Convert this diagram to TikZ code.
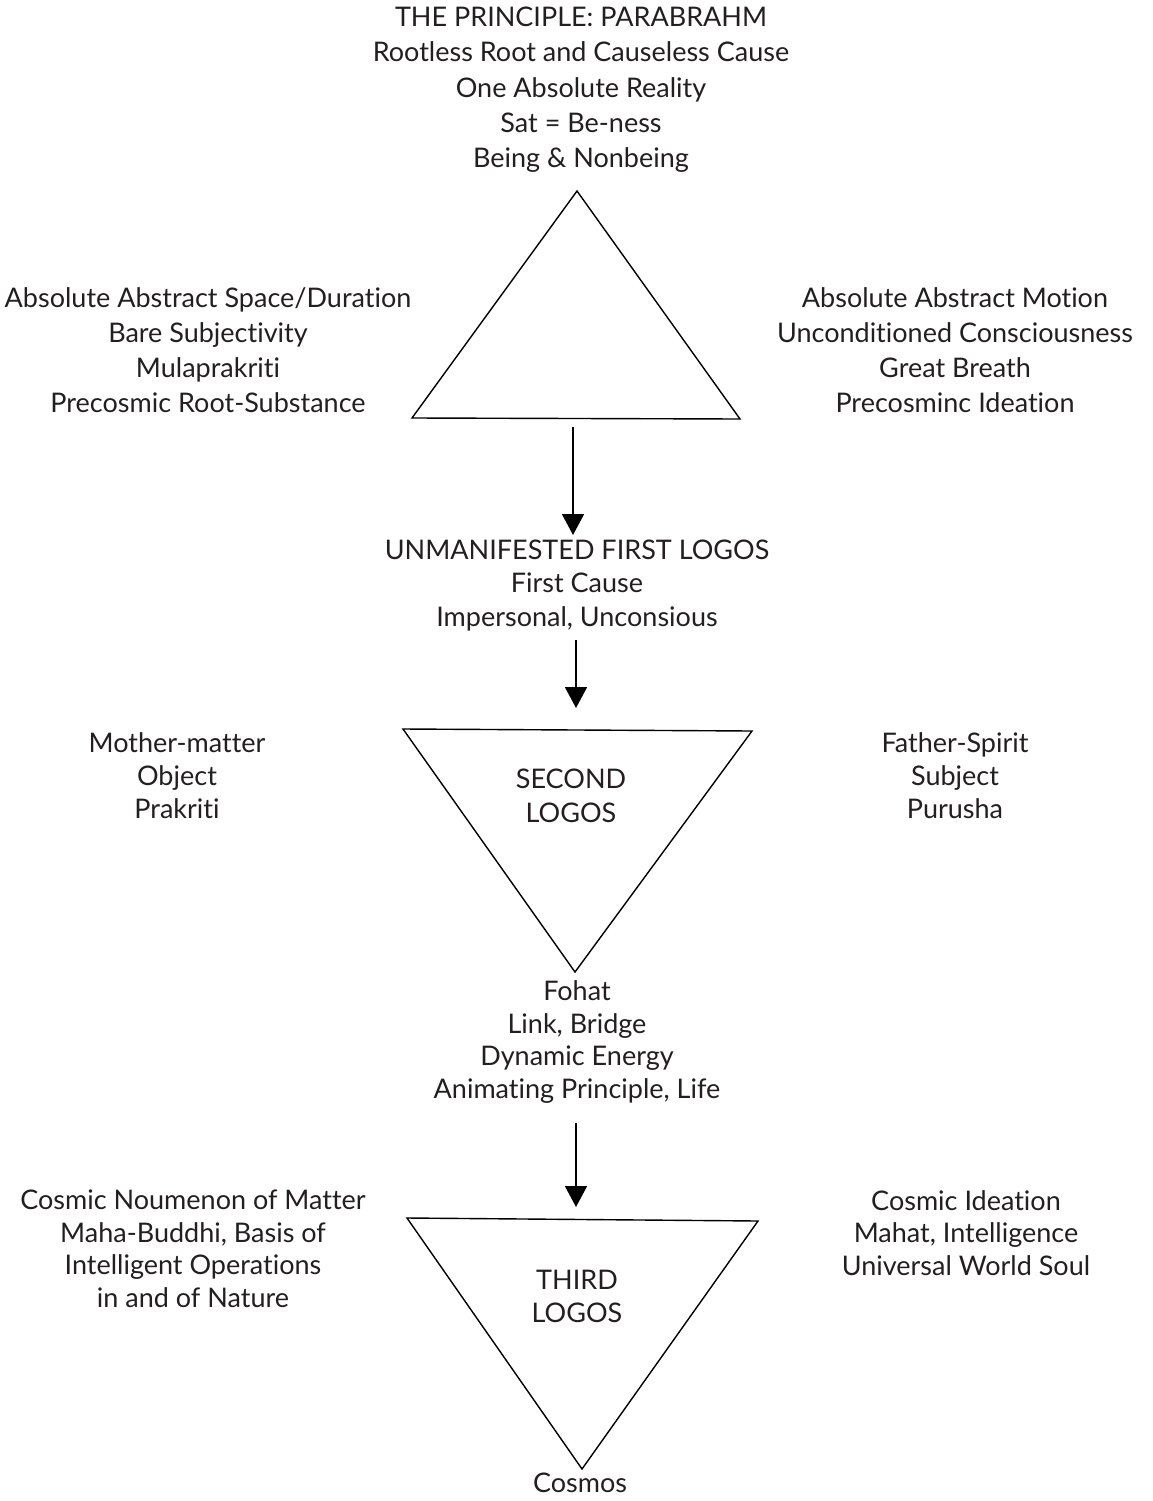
\documentclass[tikz,border=0pt]{standalone}
\usepackage{fontspec}
\setmainfont[Ligatures=NoCommon]{Lato}
\usetikzlibrary{arrows.meta}
\definecolor{ink}{HTML}{231F20}
\tikzset{
  lbl/.style={align=center, anchor=base, inner sep=0pt, text=ink},
  tri/.style={draw=black, line width=1.4pt, line join=miter},
  arr/.style={draw=black, line width=1.8pt, -{Triangle[length=21pt,width=22pt]}},
}
\newcommand{\fs}[1]{\fontsize{27}{#1}\selectfont}
\begin{document}
\begin{tikzpicture}[x=1pt,y=-1pt]
\useasboundingbox (0,0) rectangle (1152,1501);
% top
\node[lbl, font=\fs{35}] (top) at (581,167) {THE PRINCIPLE: PARABRAHM\\Rootless Root and Causeless Cause\\One Absolute Reality\\Sat = Be-ness\\Being \& Nonbeing};
% triangle 1
\coordinate (t1a) at (577,191);
\coordinate (t1l) at (412,418);
\coordinate (t1r) at (740,419);
\draw[tri] (t1a) -- (t1l) -- (t1r) -- cycle;
\node[lbl, font=\fs{35}] (l1) at (208,412) {Absolute Abstract Space/Duration\\Bare Subjectivity\\Mulaprakriti\\Precosmic Root-Substance};
\node[lbl, font=\fs{35}] (r1) at (955,412) {Absolute Abstract Motion\\Unconditioned Consciousness\\Great Breath\\Precosminc Ideation};
% arrow 1
\coordinate (a1s) at (573,427);
\coordinate (a1e) at (573,535);
\draw[arr] (a1s) -- (a1e);
\node[lbl, font=\fs{33.5}] (unm) at (577,626) {UNMANIFESTED FIRST LOGOS\\First Cause\\Impersonal, Unconsious};
% arrow 2
\coordinate (a2s) at (576,640);
\coordinate (a2e) at (576,708);
\draw[arr] (a2s) -- (a2e);
% triangle 2
\coordinate (t2l) at (403,729);
\coordinate (t2r) at (752,731);
\coordinate (t2b) at (575,972);
\draw[tri] (t2l) -- (t2r) -- (t2b) -- cycle;
\node[lbl, font=\fs{34}] (second) at (571,822) {SECOND\\LOGOS};
\node[lbl, font=\fs{33}] (l2) at (177,818) {Mother-matter\\Object\\Prakriti};
\node[lbl, font=\fs{33}] (r2) at (955,818) {Father-Spirit\\Subject\\Purusha};
\node[lbl, font=\fs{32.5}] (fohat) at (577,1098) {Fohat\\Link, Bridge\\Dynamic Energy\\Animating Principle, Life};
% arrow 3
\coordinate (a3s) at (576,1123);
\coordinate (a3e) at (576,1207);
\draw[arr] (a3s) -- (a3e);
% triangle 3
\coordinate (t3l) at (407,1218);
\coordinate (t3r) at (758,1221);
\coordinate (t3b) at (582,1469);
\draw[tri] (t3l) -- (t3r) -- (t3b) -- cycle;
\node[lbl, font=\fs{33}] (third) at (577,1322) {THIRD\\LOGOS};
\node[lbl, font=\fs{32.5}] (l3) at (193,1307) {Cosmic Noumenon of Matter\\Maha-Buddhi, Basis of\\Intelligent Operations\\in and of Nature};
\node[lbl, font=\fs{32.5}] (r3) at (966,1275) {Cosmic Ideation\\Mahat, Intelligence\\Universal World Soul};
\node[lbl, font=\fs{33}] (cosmos) at (580,1492) {Cosmos};
\end{tikzpicture}
\end{document}
